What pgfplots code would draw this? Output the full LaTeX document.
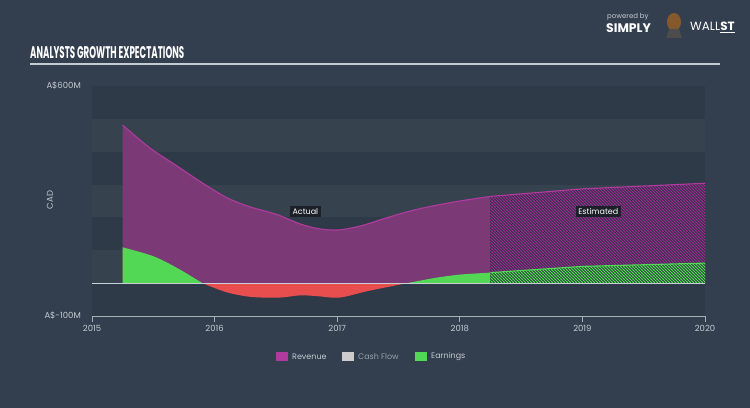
\documentclass[border=0pt]{standalone}
\usepackage{fontspec}
\setmainfont{Poppins}
\usepackage{graphicx}
\usepackage{pgfplots}
\pgfplotsset{compat=1.18}
\usetikzlibrary{patterns}
\pgfdeclarepatternformonly{finenw}{\pgfqpoint{-1bp}{-1bp}}{\pgfqpoint{4bp}{4bp}}{\pgfqpoint{3bp}{3bp}}{%
  \pgfsetlinewidth{0.85bp}%
  \pgfpathmoveto{\pgfqpoint{-0.5bp}{3.5bp}}%
  \pgfpathlineto{\pgfqpoint{3.5bp}{-0.5bp}}%
  \pgfusepath{stroke}}
\definecolor{bg}{HTML}{333F4E}
\definecolor{banddark}{HTML}{2F3A48}
\definecolor{bandlight}{HTML}{36434F}
\definecolor{revfill}{HTML}{7B3A75}
\definecolor{revline}{HTML}{B03A9E}
\definecolor{earn}{HTML}{52D855}
\definecolor{loss}{HTML}{E84E4E}
\definecolor{estbase}{HTML}{2E2F45}
\definecolor{estgreenbase}{HTML}{2E4040}
\definecolor{esthatch}{HTML}{9A2F90}
\definecolor{txt}{HTML}{C4CBD2}
\definecolor{boxc}{HTML}{1C2129}
\begin{document}
\begin{tikzpicture}
\begin{scope}[x=1bp,y=1bp]
\fill[bg] (0,0) rectangle (750,408);
\foreach \i in {0,...,6}{
  \pgfmathsetmacro\yb{92+\i*230/7}
  \pgfmathsetmacro\yt{92+(\i+1)*230/7}
  \ifodd\i
    \fill[bandlight] (92,\yb) rectangle (705,\yt);
  \else
    \fill[banddark] (92,\yb) rectangle (705,\yt);
  \fi
}
% title
\node[anchor=south west, inner sep=0] at (30,349) {\color{white}\resizebox{154bp}{12bp}{\bfseries ANALYSTS GROWTH EXPECTATIONS}};
\draw[color=txt, line width=1.3bp] (30,344) -- (720,344);
% logo
\node[anchor=south west, inner sep=0, text=txt] at (607,387) {\fontsize{7}{8}\selectfont powered by};
\node[anchor=south west, inner sep=0, text=white] at (606,375) {\fontsize{12.5}{13}\selectfont\bfseries SIMPLY};
\fill[brown!70!black] (674,386) ellipse (7 and 9);
\fill[black!70] (666,370) -- (682,370) -- (679,379) -- (669,379) -- cycle;
\node[anchor=south west, inner sep=0, text=white] at (690,375) {\fontsize{12}{13}\selectfont WALL\underline{\bfseries ST}};
% y labels
\node[anchor=east, inner sep=0, text=txt] at (81,322) {\fontsize{8.5}{9}\selectfont A\$600M};
\node[anchor=east, inner sep=0, text=txt] at (81,92) {\fontsize{8.5}{9}\selectfont A\$-100M};
\node[rotate=90, text=txt, inner sep=0] at (50,208) {\fontsize{8.5}{9}\selectfont CAD};
% legend
\fill[revline] (276,47) rectangle (288,56);
\node[anchor=west, inner sep=0, text=txt] at (292,51.5) {\fontsize{8}{9}\selectfont Revenue};
\fill[black!20] (342,47) rectangle (354,56);
\node[anchor=west, inner sep=0, text=txt!70!bg] at (358,51.5) {\fontsize{8}{9}\selectfont Cash Flow};
\fill[earn] (415,47) rectangle (427,56);
\node[anchor=west, inner sep=0, text=txt] at (431,51.5) {\fontsize{8}{9}\selectfont Earnings};
\end{scope}
\begin{axis}[
  at={(92bp,92bp)}, anchor=south west,
  scale only axis, width=613bp, height=230bp,
  xmin=2015, xmax=2020, ymin=-100, ymax=600,
  axis x line*=bottom, axis y line=none,
  x axis line style={color=txt!80!bg, line width=0.8bp, -},
  xtick={2015,2016,2017,2018,2019,2020},
  xticklabel style={text=txt, font=\fontsize{8.5}{9}\selectfont},
  x tick label style={/pgf/number format/1000 sep={}},
  /pgf/number format/assume math mode=true,
  tick align=outside, major tick length=6bp,
  xtick style={color=txt!80!bg, line width=0.8bp},
  ytick=\empty,
  clip=false,
]
% revenue actual
\addplot[draw=none, fill=revfill, smooth, tension=0.5] coordinates {
 (2015.25,481) (2015.47,412) (2015.7,355) (2015.9,305) (2016.1,260) (2016.29,232) (2016.5,210) (2016.7,180) (2016.86,165) (2017.02,162) (2017.2,175) (2017.37,195) (2017.58,218) (2017.78,235) (2018.0,250) (2018.25,264)} \closedcycle;
\addplot[revline, line width=1.1bp, smooth, tension=0.5] coordinates {
 (2015.25,481) (2015.47,412) (2015.7,355) (2015.9,305) (2016.1,260) (2016.29,232) (2016.5,210) (2016.7,180) (2016.86,165) (2017.02,162) (2017.2,175) (2017.37,195) (2017.58,218) (2017.78,235) (2018.0,250) (2018.25,264)};
% revenue estimated
\addplot[draw=none, fill=estbase] coordinates {(2018.25,264) (2019,287) (2020,304)} \closedcycle;
\addplot[draw=none, pattern=finenw, pattern color=esthatch] coordinates {(2018.25,264) (2019,287) (2020,304)} \closedcycle;
\addplot[revline, line width=1.1bp] coordinates {(2018.25,264) (2019,287) (2020,304)};
% earnings actual
\addplot[draw=none, fill=earn, smooth, tension=0.5] coordinates {(2015.25,109) (2015.5,82) (2015.7,45) (2015.9,0)} \closedcycle;
\addplot[draw=none, fill=loss, smooth, tension=0.5] coordinates {(2015.9,0) (2016.1,-28) (2016.3,-42) (2016.53,-44) (2016.7,-37) (2016.85,-40) (2017.02,-44) (2017.25,-24) (2017.57,0)} \closedcycle;
\addplot[draw=none, fill=earn, smooth, tension=0.5] coordinates {(2017.57,0) (2017.8,16) (2018.0,26) (2018.25,32)} \closedcycle;
% earnings estimated
\addplot[draw=none, fill=estgreenbase] coordinates {(2018.25,32) (2019,51) (2020,61)} \closedcycle;
\addplot[draw=none, pattern=finenw, pattern color=earn] coordinates {(2018.25,32) (2019,51) (2020,61)} \closedcycle;
\addplot[earn, line width=1.1bp] coordinates {(2018.25,32) (2019,51) (2020,61)};
% zero line
\addplot[color=txt!90!white, line width=1.2bp] coordinates {(2015,0) (2020,0)};
% labels
\node[fill=boxc, text=white, inner sep=2.5bp, font=\fontsize{8}{9}\selectfont] at (axis cs:2016.74,217) {Actual};
\node[fill=boxc, text=white, inner sep=2.5bp, font=\fontsize{8}{9}\selectfont] at (axis cs:2019.13,217) {Estimated};
\end{axis}
\pgfresetboundingbox
\useasboundingbox (0,0) rectangle (750bp,408bp);
\end{tikzpicture}
\end{document}
